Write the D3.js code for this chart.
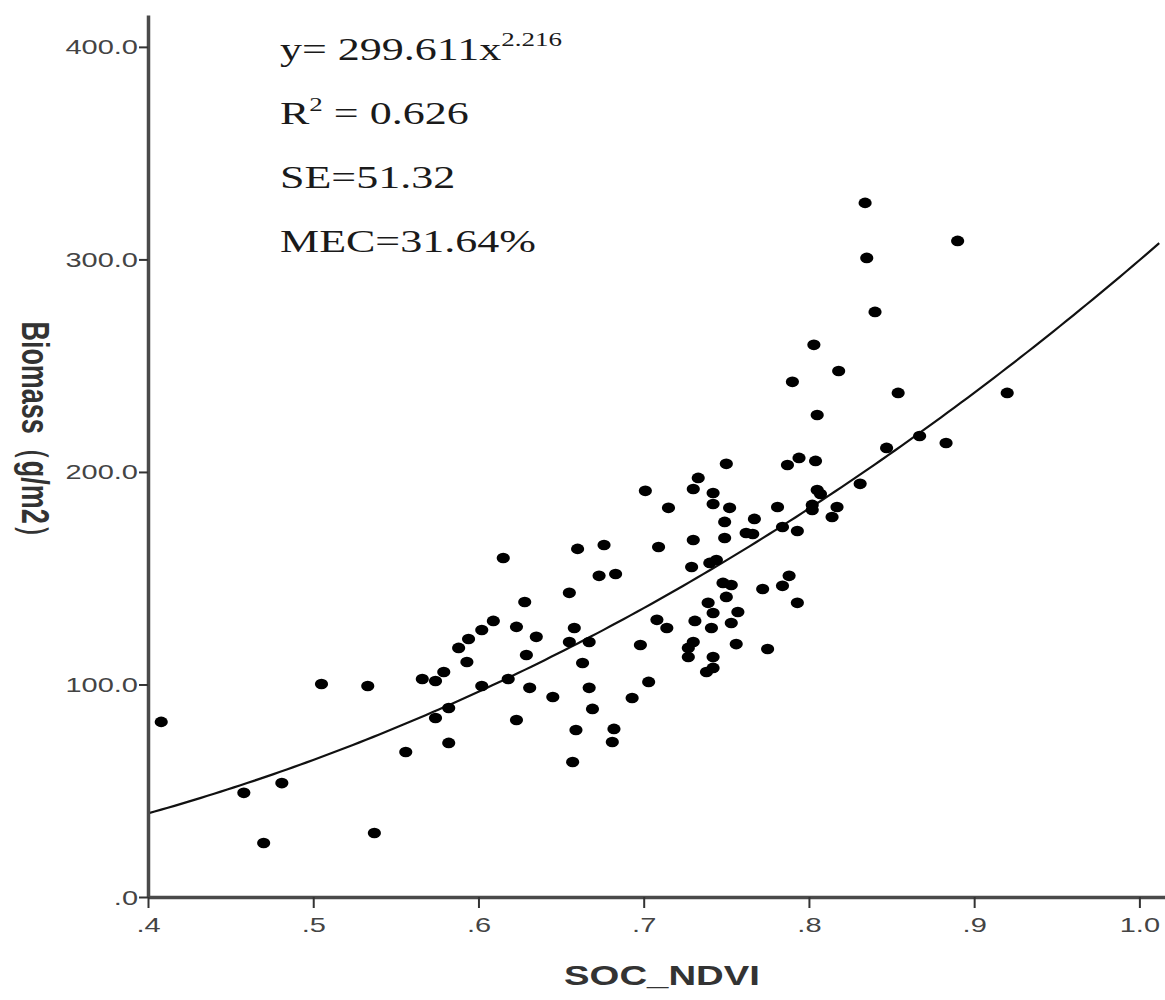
<!DOCTYPE html>
<html>
<head>
<meta charset="utf-8">
<script src="https://cdn.jsdelivr.net/npm/d3@7"></script>
<style>
  body { margin: 0; background: #fff; }
  svg { display: block; }
</style>
</head>
<body>
<svg id="chart" width="1165" height="1000"></svg>
<script>
const socNdvi = [
  .408, .505, .533, .566, .574, .574, .556, .481, .458, .470,
  .537, .579, .588, .594, .593, .602, .609, .615, .628, .623,
  .629, .618, .602, .631, .623, .582, .582, .635, .645, .655,
  .660, .658, .655, .667, .663, .667, .669, .659, .657, .682,
  .681, .673, .683, .676, .693, .703, .698, .701, .715, .709,
  .708, .714, .730, .733, .750, .742, .742, .752, .749, .730,
  .749, .729, .740, .744, .748, .753, .750, .739, .742, .731,
  .741, .753, .757, .756, .730, .727, .727, .742, .742, .738,
  .762, .766, .767, .781, .787, .794, .804, .805, .807, .802,
  .802, .784, .793, .817, .814, .831, .847, .867, .883, .772,
  .784, .788, .793, .775, .834, .890, .835, .840, .803, .818,
  .790, .854, .920, .805
];
const biomass = [
  82.4, 100.2, 99.3, 102.6, 101.6, 84.2, 68.2, 53.6, 49.0, 25.4,
  30.1, 105.9, 117.2, 121.4, 110.6, 125.6, 129.9, 159.5, 138.8, 127.1,
  113.9, 102.6, 99.3, 98.4, 83.3, 88.9, 72.5, 122.4, 94.1, 143.1,
  163.8, 126.6, 120.0, 120.0, 110.1, 98.4, 88.5, 78.6, 63.5, 79.1,
  72.9, 151.1, 152.0, 165.6, 93.6, 101.2, 118.6, 191.1, 183.1, 164.7,
  130.4, 126.6, 192.0, 197.2, 203.8, 190.1, 184.9, 183.1, 176.5, 168.0,
  168.9, 155.3, 157.2, 158.6, 147.8, 146.8, 141.2, 138.4, 133.6, 129.9,
  126.6, 128.9, 134.1, 119.0, 120.0, 117.2, 112.9, 112.9, 107.8, 105.9,
  171.3, 170.8, 177.9, 183.5, 203.3, 206.6, 205.2, 191.5, 189.6, 184.5,
  182.1, 174.1, 172.2, 183.5, 178.8, 194.4, 211.3, 216.9, 213.6, 144.9,
  146.4, 151.1, 138.4, 116.7, 326.6, 308.7, 300.7, 275.3, 259.8, 247.5,
  242.4, 237.2, 237.2, 226.8
];

// Fitted power curve y = a * x^b
const fitA = 299.611;
const fitB = 2.216;

// Tick values and labels
const xTicks = [.4, .5, .6, .7, .8, .9, 1.0];
const xTickLabels = ['.4', '.5', '.6', '.7', '.8', '.9', '1.0'];
const yTicks = [0, 100, 200, 300, 400];
const yTickLabels = ['.0', '100.0', '200.0', '300.0', '400.0'];

// Annotation lines
const statLines = ['R', 'SE=51.32', 'MEC=31.64%'];

const svg = d3.select('#chart');
const stretch = 1.45; // the source picture is widened horizontally

const x = d3.scaleLinear().domain([0.4, 1.0155]).range([148, 1165]);
const y = d3.scaleLinear().domain([0, 415]).range([897, 15]);

// Fit curve
const curveXs = d3.range(0.4, 1.0156, 0.004);
const line = d3.line()
  .x(d => x(d))
  .y(d => y(fitA * Math.pow(d, fitB)));

svg.append('path')
  .datum(curveXs)
  .attr('fill', 'none')
  .attr('stroke', '#111')
  .attr('stroke-width', 2.2)
  .attr('d', line);

// Points
svg.append('g')
  .selectAll('ellipse')
  .data(d3.zip(socNdvi, biomass))
  .join('ellipse')
    .attr('cx', d => x(d[0]))
    .attr('cy', d => y(d[1]))
    .attr('rx', 6.6)
    .attr('ry', 5.3)
    .attr('fill', '#000');

// Y axis
const yAxis = svg.append('g')
  .attr('transform', `translate(${x(0.4)},0)`)
  .call(d3.axisLeft(y)
    .tickValues(yTicks)
    .tickFormat((d, i) => yTickLabels[i])
    .tickSize(9)
    .tickSizeOuter(0));

// X axis
const xAxis = svg.append('g')
  .attr('transform', `translate(0,${y(0)})`)
  .call(d3.axisBottom(x)
    .tickValues(xTicks)
    .tickFormat((d, i) => xTickLabels[i])
    .tickSize(11)
    .tickSizeOuter(0));

[yAxis, xAxis].forEach(g => {
  g.select('.domain').attr('stroke', '#4a4a4a').attr('stroke-width', 3.5);
  g.selectAll('.tick line').attr('stroke', '#333').attr('stroke-width', 2);
});

yAxis.selectAll('.tick text')
  .attr('x', null)
  .attr('dy', null)
  .attr('transform', 'translate(-10,7) scale(' + stretch + ',1)')
  .attr('fill', '#444')
  .style('font-family', 'Liberation Sans, Arial, sans-serif')
  .style('font-size', '20px');

xAxis.selectAll('.tick text')
  .attr('y', null)
  .attr('dy', null)
  .attr('transform', 'translate(0,35) scale(' + stretch + ',1)')
  .attr('fill', '#444')
  .style('font-family', 'Liberation Sans, Arial, sans-serif')
  .style('font-size', '20px');

// Axis titles
svg.append('text')
  .attr('transform', 'translate(662,985) scale(1.42,1)')
  .attr('text-anchor', 'middle')
  .attr('fill', '#333')
  .style('font-family', 'Liberation Sans, Arial, sans-serif')
  .style('font-weight', 'bold')
  .style('font-size', '27px')
  .text('SOC_NDVI');

svg.append('text')
  .attr('transform', 'translate(22,436) rotate(90) scale(1,1.42)')
  .attr('text-anchor', 'middle')
  .attr('fill', '#333')
  .style('font-family', 'Liberation Sans, Arial, sans-serif')
  .style('font-weight', 'bold')
  .style('font-size', '27px')
  .text('Biomass（g/m2）');

// Annotation block
const note = svg.append('g')
  .attr('fill', '#1a1a1a')
  .style('font-family', 'Liberation Serif, Times New Roman, serif')
  .style('font-size', '31px');

const l1 = note.append('text').attr('transform', 'translate(280,60) scale(1.42,1)');
l1.append('tspan').text('y= 299.611x');
l1.append('tspan').attr('dy', -14).style('font-size', '19px').text(fitB.toFixed(3));

const l2 = note.append('text').attr('transform', 'translate(280,124) scale(1.42,1)');
l2.append('tspan').text(statLines[0]);
l2.append('tspan').attr('dy', -13).style('font-size', '19px').text('2');
l2.append('tspan').attr('dy', 13).text(' = 0.626');

note.append('text').attr('transform', 'translate(280,188) scale(1.42,1)').text(statLines[1]);
note.append('text').attr('transform', 'translate(280,252) scale(1.42,1)').text(statLines[2]);
</script>
</body>
</html>
